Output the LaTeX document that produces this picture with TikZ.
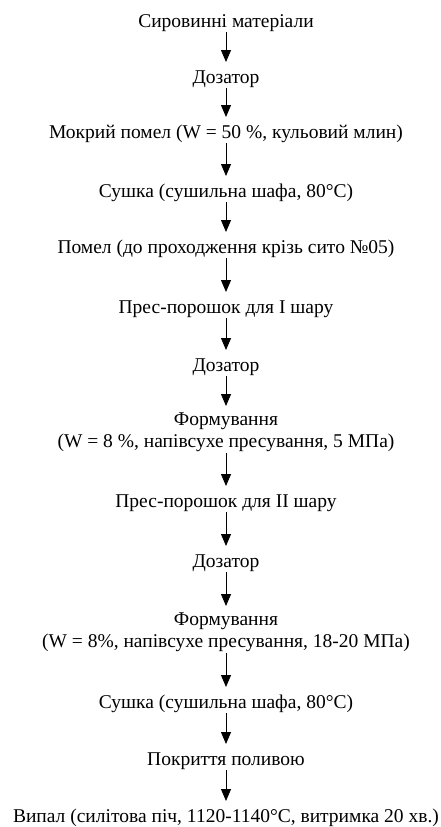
\documentclass[tikz,border=0pt]{standalone}
\usepackage{fontspec}
\setmainfont{Liberation Serif}
\usetikzlibrary{arrows.meta}
\newcommand{\mystrutA}{\rule{0pt}{14pt}}
\newcommand{\mystrutB}{\rule[-5pt]{0pt}{5pt}}
\begin{document}
\begin{tikzpicture}[x=1pt,y=-1pt,
  stepnode/.style={font=\fontsize{19.5}{22}\selectfont, align=center, inner sep=0pt, text=black, anchor=north,
    execute at begin node=\mystrutA, execute at end node=\mystrutB},
  arr/.style={-{Triangle[width=10pt,length=12pt]}, line width=0.8pt, shorten >=7pt}]
\useasboundingbox[fill=white] (0,0) rectangle (440,827);
\node[stepnode] (n1) at (226,13) {Сировинні матеріали};
\node[stepnode] (n2) at (226,69) {Дозатор};
\node[stepnode] (n3) at (226,124) {Мокрий помел (W = 50 \%, кульовий млин)};
\node[stepnode] (n4) at (226,183) {Сушка (сушильна шафа, 80°C)};
\node[stepnode] (n5) at (226,239) {Помел (до проходження крізь сито №05)};
\node[stepnode] (n6) at (226,299) {Прес-порошок для I шару};
\node[stepnode] (n7) at (226,357) {Дозатор};
\node[stepnode] (n8) at (226,413) {Формування\\(W = 8 \%, напівсухе пресування, 5 МПа)};
\node[stepnode] (n9) at (226,493) {Прес-порошок для II шару};
\node[stepnode] (n10) at (226,553) {Дозатор};
\node[stepnode] (n11) at (226,613) {Формування\\(W = 8\%, напівсухе пресування, 18-20 МПа)};
\node[stepnode] (n12) at (226,694) {Сушка (сушильна шафа, 80°C)};
\node[stepnode] (n13) at (226,751) {Покриття поливою};
\node[stepnode] (n14) at (226,808) {Випал (силітова піч, 1120-1140°C, витримка 20 хв.)};
\foreach \a/\b in {n1/n2,n2/n3,n3/n4,n4/n5,n5/n6,n6/n7,n7/n8,n8/n9,n9/n10,n10/n11,n11/n12,n12/n13,n13/n14}
  \draw[arr] (\a.south) -- (\b.north);
\end{tikzpicture}
\end{document}
